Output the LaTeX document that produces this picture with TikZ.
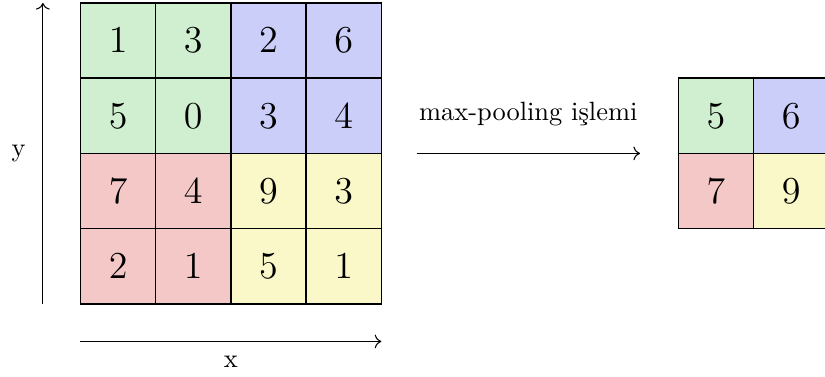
\documentclass[tikz,border=0pt]{standalone}
\usepackage{tikz}
\usetikzlibrary{arrows.meta,positioning}
\definecolor{poolGreen}{RGB}{208,239,208}
\definecolor{poolBlue}{RGB}{204,206,250}
\definecolor{poolRed}{RGB}{245,200,200}
\definecolor{poolYellow}{RGB}{250,248,200}
\tikzset{
  cell/.style={draw, semithick, minimum size=1cm, inner sep=0pt, font=\Large},
  axis/.style={->}
}
\begin{document}
\begin{tikzpicture}
    \useasboundingbox (-1.07,-0.96) rectangle (9.90,4.04);
    % Input matrix (4x4)
    \foreach \col/\row/\val/\clr in {
      0/3/1/poolGreen, 1/3/3/poolGreen, 2/3/2/poolBlue, 3/3/6/poolBlue,
      0/2/5/poolGreen, 1/2/0/poolGreen, 2/2/3/poolBlue, 3/2/4/poolBlue,
      0/1/7/poolRed, 1/1/4/poolRed, 2/1/9/poolYellow, 3/1/3/poolYellow,
      0/0/2/poolRed, 1/0/1/poolRed, 2/0/5/poolYellow, 3/0/1/poolYellow}
      \node[cell, fill=\clr] (in\col\row) at (\col+0.5, \row+0.5) {$\val$};
    % Axes
    \coordinate (ybot) at (-0.5, 0);
    \coordinate (ytop) at (-0.5, 4);
    \draw[axis] (ybot) -- (ytop) node[midway, left=3pt] (ylab) {y};
    \coordinate (xleft) at (0, -0.5);
    \coordinate (xright) at (4, -0.5);
    \draw[axis] (xleft) -- (xright) node[midway, below=2pt] (xlab) {x};
    % Pooling step
    \coordinate (pstart) at (4.47, 2);
    \coordinate (pend) at (7.44, 2);
    \draw[axis] (pstart) -- (pend) node[midway, above=7pt] (plab) {max-pooling işlemi};
    % Output matrix (2x2)
    \node[cell, fill=poolGreen] (out01) at (8.45, 2.5) {$5$};
    \node[cell, fill=poolBlue] (out11) at (9.45, 2.5) {$6$};
    \node[cell, fill=poolRed] (out00) at (8.45, 1.5) {$7$};
    \node[cell, fill=poolYellow] (out10) at (9.45, 1.5) {$9$};
  \end{tikzpicture}
\end{document}
